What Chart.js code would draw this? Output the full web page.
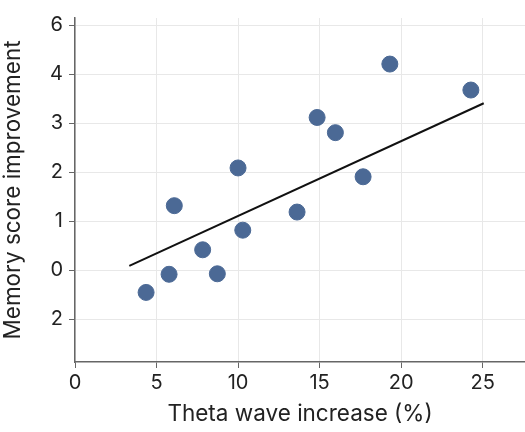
<!DOCTYPE html>
<html>
<head>
<meta charset="utf-8">
<script src="https://cdn.jsdelivr.net/npm/chart.js@4"></script>
<style>
  html, body { margin: 0; padding: 0; background: #fff; }
  #wrap { width: 525px; height: 432px; }
</style>
</head>
<body>
<div id="wrap"><canvas id="chart"></canvas></div>
<script>
// 散点数据
const thetaIncrease = [4.36, 5.77, 6.09, 7.83, 8.73, 10.0, 10.29, 13.62, 14.85, 15.97, 17.67, 19.31, 24.28];
const memoryScore = [-0.45, -0.08, 1.32, 0.42, -0.07, 2.09, 0.82, 1.19, 3.12, 2.81, 1.91, 4.21, 3.68];

// 趋势线两端
const trendX = [3.33, 25.07];
const trendY = [0.09, 3.41];

// 坐标轴刻度
const xTickValues = [0, 5, 10, 15, 20, 25];
const yTickValues = [-1, 0, 1, 2, 3, 4, 5];
const yTickLabels = ['2', '0', '1', '2', '3', '4', '6'];

const FONT = 'Inter, "Liberation Sans", sans-serif';

new Chart(document.getElementById('chart'), {
    type: 'scatter',
    data: {
        datasets: [{
            label: 'Points',
            data: thetaIncrease.map((x, i) => ({ x: x, y: memoryScore[i] })),
            backgroundColor: '#4b6995',
            borderColor: '#4b6995',
            pointRadius: 8,
            pointHoverRadius: 8
        }, {
            type: 'line',
            label: 'Trend',
            data: trendX.map((x, i) => ({ x: x, y: trendY[i] })),
            borderColor: '#111',
            borderWidth: 2,
            pointRadius: 0,
            fill: false
        }]
    },
    options: {
        responsive: true,
        maintainAspectRatio: false,
        animation: false,
        layout: { autoPadding: false, padding: { top: 11, right: 0, left: 0, bottom: 0 } },
        plugins: {
            legend: { display: false },
            tooltip: { enabled: false }
        },
        scales: {
            x: {
                type: 'linear',
                min: 0,
                max: 27.6,
                afterBuildTicks: s => { s.ticks = xTickValues.map(v => ({ value: v })); },
                afterFit: s => { s.height = 70; },
                border: { color: '#666', width: 1.5 },
                grid: { color: '#e8e8e8', tickColor: '#666', tickLength: 6 },
                ticks: { color: '#222', font: { family: FONT, size: 20 }, padding: 3 },
                title: {
                    display: true,
                    text: 'Theta wave increase (%)',
                    color: '#222',
                    font: { family: FONT, size: 22.5 },
                    padding: { top: 1 }
                }
            },
            y: {
                type: 'linear',
                min: -1.87,
                max: 5.15,
                afterBuildTicks: s => { s.ticks = yTickValues.map(v => ({ value: v })); },
                afterFit: s => { s.width = 75; },
                border: { color: '#666', width: 1.5 },
                grid: { color: '#e8e8e8', tickColor: '#666', tickLength: 6 },
                ticks: {
                    color: '#222',
                    font: { family: FONT, size: 20 },
                    padding: 6,
                    callback: function(value) {
                        const i = yTickValues.indexOf(value);
                        return i >= 0 ? yTickLabels[i] : '';
                    }
                },
                title: {
                    display: true,
                    text: 'Memory score improvement',
                    color: '#222',
                    font: { family: FONT, size: 22.5 },
                    padding: { top: 0, bottom: 2 }
                }
            }
        }
    }
});
</script>
</body>
</html>
